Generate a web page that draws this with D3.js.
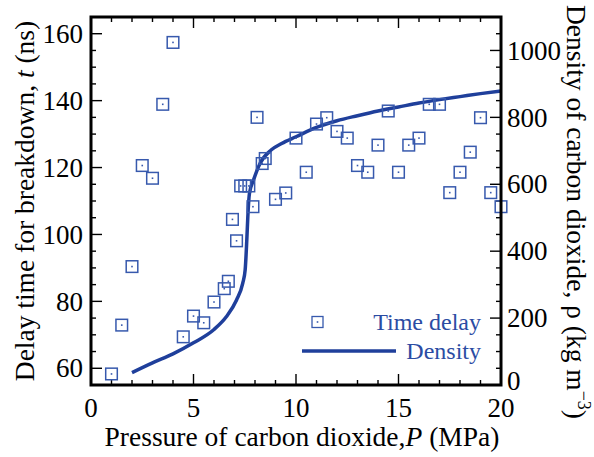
<!DOCTYPE html>
<html>
<head>
<meta charset="utf-8">
<script src="https://cdn.jsdelivr.net/npm/d3@7/dist/d3.min.js"></script>
<style>
  html, body { margin: 0; padding: 0; background: #fff; }
  svg { display: block; }
  text { font-family: "Liberation Serif", "Times New Roman", serif; }
</style>
</head>
<body>
<svg id="chart" width="594" height="457"></svg>
<script>
// Breakdown delay time measured at each CO2 pressure (MPa -> ns)
const pressure = [1, 1.5, 2, 2.5, 3, 3.5, 4, 4.5, 5, 5.5, 6, 6.5, 6.7, 6.9, 7.1, 7.3, 7.5, 7.7, 7.9, 8.1,
                  8.35, 8.5, 9, 9.5, 10, 10.5, 11, 11.5, 12, 12.5, 13, 13.5, 14, 14.5, 15, 15.5, 16, 16.5,
                  17, 17.5, 18, 18.5, 19, 19.5, 20];
const delay = [58.3, 72.9, 90.4, 120.6, 116.8, 138.9, 157.4, 69.4, 75.6, 73.6, 79.8, 83.8, 86.0, 104.5, 98.1,
               114.5, 114.5, 114.5, 108.3, 135.0, 121.2, 122.7, 110.5, 112.4, 128.8, 118.6, 133.0, 134.9,
               130.8, 128.8, 120.6, 118.6, 126.7, 136.9, 118.6, 126.7, 128.8, 138.9, 138.9, 112.5, 118.6,
               124.6, 134.9, 112.5, 108.3];

// CO2 density along the same pressure range (MPa -> kg m^-3)
const densityP = [2, 3, 4, 5, 6, 6.6, 7.1, 7.4, 7.52, 7.6, 7.65, 7.73, 7.93, 8.25, 8.8, 9.3, 10, 11, 12, 13,
                  14, 15, 16, 17, 18, 19, 20];
const densityRho = [37, 66, 93, 126, 166, 204, 254, 304, 344, 433, 503, 573, 613, 663, 703, 722, 742, 770, 790,
                    805, 819, 831, 843, 853, 862, 871, 879];

// Axis tick values
const xMajor = [0, 5, 10, 15, 20];
const yLeftMajor = [60, 80, 100, 120, 140, 160];
const yRightMajor = [0, 200, 400, 600, 800, 1000];

const legendLabels = ["Time delay", "Density"];

const markerColor = "#3759ad";
const lineColor = "#1f3f9b";
const legendTextColor = "#2b4ca3";

const svg = d3.select("#chart");
const plotL = 91, plotR = 501, plotT = 17, plotB = 385;

const x = d3.scaleLinear().domain([0, 20]).range([plotL, plotR]);
const yL = d3.scaleLinear().domain([55, 165]).range([plotB, plotT]);
const yR = d3.scaleLinear().domain([0, 1100]).range([plotB, plotT]);

const steps = (a, b, s) => d3.range(a, b + s / 2, s);

// Inward ticks on all four sides
function ticks(g, vals, len, orient, scale) {
  g.selectAll(null).data(vals).enter().append("line")
    .attr("stroke", "#000").attr("stroke-width", 1.4)
    .each(function (v) {
      const s = d3.select(this);
      const p = scale(v);
      if (orient === "bottom") s.attr("x1", p).attr("x2", p).attr("y1", plotB).attr("y2", plotB - len);
      if (orient === "top") s.attr("x1", p).attr("x2", p).attr("y1", plotT).attr("y2", plotT + len);
      if (orient === "left") s.attr("y1", p).attr("y2", p).attr("x1", plotL).attr("x2", plotL + len);
      if (orient === "right") s.attr("y1", p).attr("y2", p).attr("x1", plotR).attr("x2", plotR - len);
    });
}
const tg = svg.append("g");
const xMinor = steps(0, 20, 1).filter(v => !xMajor.includes(v));
ticks(tg, xMinor, 5, "bottom", x); ticks(tg, xMajor, 11, "bottom", x);
ticks(tg, xMinor, 5, "top", x); ticks(tg, xMajor, 11, "top", x);
const yLMinor = steps(55, 165, 5).filter(v => !yLeftMajor.includes(v));
ticks(tg, yLMinor, 5, "left", yL); ticks(tg, yLeftMajor, 11, "left", yL);
const yRMinor = steps(0, 1100, 50).filter(v => !yRightMajor.includes(v));
ticks(tg, yRMinor, 5, "right", yR); ticks(tg, yRightMajor, 11, "right", yR);

// Tick labels
const fs = 27;
svg.append("g").selectAll("text").data(xMajor).enter().append("text")
  .attr("x", d => x(d)).attr("y", plotB + 32).attr("text-anchor", "middle")
  .attr("font-size", fs).text(d => d);
svg.append("g").selectAll("text").data(yLeftMajor).enter().append("text")
  .attr("x", plotL - 8).attr("y", d => yL(d)).attr("dy", "0.34em").attr("text-anchor", "end")
  .attr("font-size", fs).text(d => d);
svg.append("g").selectAll("text").data(yRightMajor).enter().append("text")
  .attr("x", plotR + 6).attr("y", d => yR(d)).attr("dy", d => d === 0 ? "0.18em" : "0.34em")
  .attr("text-anchor", "start")
  .attr("font-size", fs).text(d => d);

// Density curve
const line = d3.line().x((d, i) => x(densityP[i])).y(d => yR(d)).curve(d3.curveMonotoneX);
svg.append("path").datum(densityRho).attr("d", line)
  .attr("fill", "none").attr("stroke", lineColor).attr("stroke-width", 3.5);

// Delay-time markers: open squares with a centre dot
const mk = svg.append("g").selectAll("g").data(delay).enter().append("g")
  .attr("transform", (d, i) => `translate(${x(pressure[i])},${yL(d)})`);
mk.append("rect").attr("x", -5.8).attr("y", -5.8).attr("width", 11.6).attr("height", 11.6)
  .attr("fill", "none").attr("stroke", markerColor).attr("stroke-width", 1.5);
mk.append("rect").attr("x", -0.8).attr("y", -0.8).attr("width", 1.6).attr("height", 1.6)
  .attr("fill", markerColor);

// Frame
svg.append("rect").attr("x", plotL).attr("y", plotT).attr("width", plotR - plotL).attr("height", plotB - plotT)
  .attr("fill", "none").attr("stroke", "#000").attr("stroke-width", 3);

// Legend
const lg = svg.append("g");
lg.append("rect").attr("x", 312).attr("y", 316.5).attr("width", 11).attr("height", 11)
  .attr("fill", "none").attr("stroke", markerColor).attr("stroke-width", 1.3);
lg.append("rect").attr("x", 316.7).attr("y", 321.2).attr("width", 1.6).attr("height", 1.6).attr("fill", markerColor);
lg.append("line").attr("x1", 302).attr("x2", 396).attr("y1", 351).attr("y2", 351)
  .attr("stroke", lineColor).attr("stroke-width", 3.5);
lg.append("text").attr("x", 481).attr("y", 330).attr("text-anchor", "end").attr("font-size", 24)
  .attr("fill", legendTextColor).text(legendLabels[0]);
lg.append("text").attr("x", 481).attr("y", 359).attr("text-anchor", "end").attr("font-size", 24)
  .attr("fill", legendTextColor).text(legendLabels[1]);

// Axis titles
const tfs = 27.5;
const xt = svg.append("text").attr("x", (plotL + plotR) / 2 + 6).attr("y", 446)
  .attr("text-anchor", "middle").attr("font-size", tfs);
xt.append("tspan").text("Pressure of carbon dioxide,");
xt.append("tspan").attr("font-style", "italic").text("P");
xt.append("tspan").text(" (MPa)");

const ylt = svg.append("text").attr("transform", `translate(34,${(plotT + plotB) / 2}) rotate(-90)`)
  .attr("text-anchor", "middle").attr("font-size", tfs);
ylt.append("tspan").text("Delay time for breakdown, ");
ylt.append("tspan").attr("font-style", "italic").text("t");
ylt.append("tspan").text(" (ns)");

const yrt = svg.append("text").attr("transform", `translate(567,212) rotate(90)`)
  .attr("text-anchor", "middle").attr("font-size", tfs);
yrt.append("tspan").text("Density of carbon dioxide, ρ (kg m");
yrt.append("tspan").attr("dy", -11).attr("font-size", 18).text("−3");
yrt.append("tspan").attr("dy", 11).text(")");
</script>
</body>
</html>
